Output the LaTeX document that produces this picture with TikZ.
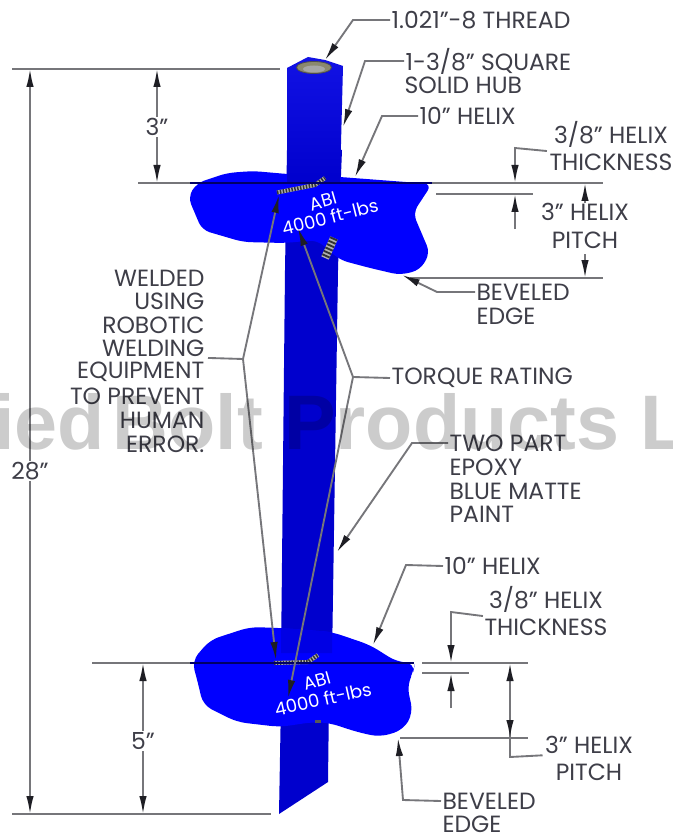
\documentclass[tikz,border=0pt]{standalone}
\usepackage{fontspec}
\setmainfont{Poppins}
\newfontfamily\wmfont{Liberation Sans}
\usetikzlibrary{arrows.meta}
\definecolor{linegray}{RGB}{118,118,122}
\definecolor{tipdark}{RGB}{30,30,36}
\definecolor{labelgray}{RGB}{62,62,72}
\definecolor{helixblue}{RGB}{0,0,255}
\definecolor{shafttop}{RGB}{18,18,228}
\definecolor{shaftlow}{RGB}{0,0,205}
\definecolor{shaftover}{RGB}{0,0,228}
\tikzset{
  lbl/.style={inner sep=1pt,text=labelgray,font=\fontsize{17.6pt}{20pt}\selectfont},
  ll/.style={lbl,anchor=west},
  lr/.style={lbl,anchor=east},
  lc/.style={lbl,anchor=center},
  ln/.style={line width=1.4pt,draw=linegray},
  ar/.style={ln,-{Latex[length=13.5pt,width=5.6pt,color=tipdark]}},
  onblue/.style={text=white,inner sep=0pt,font=\fontsize{13.5pt}{16pt}\selectfont},
  weld/.style={draw=black!80,line width=3pt,dash pattern=on 1.1pt off 1.1pt},
  weldunder/.style={draw=white!70!black,line width=3pt},
}
\begin{document}
\begin{tikzpicture}[x=0.75pt,y=-0.75pt]
\useasboundingbox (0,0) rectangle (672,834);
\clip (0,0) rectangle (672,834);
\fill[white] (0,0) rectangle (672,834);

% shaft below the lower helix
\fill[shaftlow] (281,700) -- (329,700) -- (328,782) -- (279,814) -- cycle;
% shaft between the helices
\fill[shaftlow] (287,150) -- (342,150) -- (340,200) -- (338,270) -- (332,660) -- (281,660) -- (285,270) -- cycle;

% lower helix
\fill[helixblue,rounded corners=7pt] (192,661) -- (210,640) -- (250,627) -- (280,628) -- (332,632) -- (370,645) -- (397,662) -- (415,663) -- (413,673) -- (407,685) -- (413,713) -- (403,730) -- (380,737) -- (357,732) -- (330,723) -- (313,722) -- (280,727) -- (237,722) -- (203,705) -- (198,683) -- cycle;
\fill[shaftover] (281,628) -- (332,632) -- (332,653) -- (281,653) -- cycle;

% upper helix
\fill[helixblue,rounded corners=6pt] (188,197) -- (197,183) -- (227,173) -- (253,171) -- (287,174) -- (340,177) -- (432,184) -- (413,213) -- (430,253) -- (420,270) -- (400,275) -- (370,268) -- (340,260) -- (317,240) -- (285,243) -- (243,242) -- (202,230) -- cycle;

% hub
\shade[top color=shafttop,bottom color=shaftlow] (287,68) -- (308,57) -- (325,60) -- (343,66) -- (340,183) -- (287,183) -- cycle;
\fill[black!55!yellow!45!gray] (314,67.5) ellipse (17.5 and 6);
\draw[black!70,line width=0.6pt] (314,67.5) ellipse (17.5 and 6);
\fill[gray!70] (314,69) ellipse (11 and 3.5);

% welds
\draw[weldunder] (277,192.5) -- (315,185) -- (325,178);
\draw[weld] (277,192.5) -- (315,185) -- (325,178);
\draw[draw=gray!60,line width=6pt] (334,238) -- (325,258);
\draw[draw=black!80,line width=6pt,dash pattern=on 1.4pt off 1.4pt] (334,238) -- (325,258);
\draw[weldunder] (274,663) -- (308,662) -- (318,655);
\draw[weld] (274,663) -- (308,662) -- (318,655);
\fill[gray!70!black] (315,720) rectangle (321,723);

% rating text on the helixes
\node[onblue,rotate=16] (abiA) at (323,201.5) {ABI};
\node[onblue,rotate=14] (ratingA) at (330,217) {4000 ft-lbs};
\node[onblue,rotate=16] (abiB) at (317,681) {ABI};
\node[onblue,rotate=12.5] (ratingB) at (323,699) {4000 ft-lbs};

% named ends of the leaders
\coordinate (tipThread) at (325,60);
\coordinate (tipHub) at (343,127);
\coordinate (tipHelixA) at (355,177);
\coordinate (tipBevelA) at (402,275);
\coordinate (tipWeldA) at (279,195);
\coordinate (tipWeldB) at (276,660);
\coordinate (tipTorqueA) at (298,228);
\coordinate (tipTorqueB) at (288,698);
\coordinate (tipEpoxy) at (337,552);
\coordinate (tipHelixB) at (373,645);
\coordinate (tipBevelB) at (398,738);

% labels
\node[ll] (thread) at (390,20) {1.021"-8 THREAD};
\node[ll] (hubA) at (404,61) {1-3/8" SQUARE};
\node[ll] (hubB) at (403,85) {SOLID HUB};
\node[ll] (helixA) at (418,116) {10" HELIX};
\node[lc] (thickA) at (611,134) {3/8" HELIX};
\node[lc] (thickAb) at (611,162) {THICKNESS};
\node[lc] (pitchA) at (585,212) {3" HELIX};
\node[lc] (pitchAb) at (585,240) {PITCH};
\node[ll] (bevelA) at (475,292) {BEVELED};
\node[ll] (bevelAb) at (475,316) {EDGE};
\node[ll] (torque) at (390,378) {TORQUE RATING};
\node[ll] (epoxyA) at (448,443) {TWO PART};
\node[ll] (epoxyB) at (448,467) {EPOXY};
\node[ll] (epoxyC) at (448,491) {BLUE MATTE};
\node[ll] (epoxyD) at (448,514) {PAINT};
\node[ll] (helixB) at (443,566) {10" HELIX};
\node[lc] (thickB) at (546,599) {3/8" HELIX};
\node[lc] (thickBb) at (546,627) {THICKNESS};
\node[lc] (pitchB) at (589,745) {3" HELIX};
\node[lc] (pitchBb) at (589,772) {PITCH};
\node[ll] (bevelB) at (441,801) {BEVELED};
\node[ll] (bevelBb) at (441,824) {EDGE};
\node[lr] (w1) at (206,278) {WELDED};
\node[lr] (w2) at (206,301) {USING};
\node[lr] (w3) at (206,325) {ROBOTIC};
\node[lr] (w4) at (206,348) {WELDING};
\node[lr] (w5) at (206,372) {EQUIPMENT};
\node[lr] (w6) at (206,396) {TO PREVENT};
\node[lr] (w7) at (206,420) {HUMAN};
\node[lr] (w8) at (206,444) {ERROR.};
\node[lc] (dimTwentyEight) at (30,471) {28"};
\node[lc] (dimThree) at (157,127) {3"};
\node[lc] (dimFive) at (143,741) {5"};

% extension lines
\coordinate (extTopL) at (12,69);
\coordinate (extTopR) at (280,69);
\coordinate (extBotL) at (12,814);
\coordinate (extBotR) at (271,814);
\coordinate (extHA) at (138,183);
\coordinate (extHB) at (603,183);
\coordinate (extHC) at (92,663);
\coordinate (extHD) at (414,663);
\draw[ln] (extTopL) -- (extTopR);
\draw[ln] (extBotL) -- (extBotR);
\draw[ln] (extHA) -- (190,183);
\draw[line width=1pt,draw=black!60!blue] (190,183) -- (432,183);
\draw[ln] (432,183) -- (extHB);
\draw[ln] (436,194) -- (533,194);
\draw[ln] (410,278) -- (603,278);
\draw[ln] (extHC) -- (190,663);
\draw[line width=1pt,draw=black!60!blue] (190,663) -- (extHD);
\draw[ln] (422,663) -- (528,663);
\draw[ln] (422,673) -- (469,673);
\draw[ln] (400,738) -- (528,738);

% dimension arrows
\draw[ar] (dimTwentyEight.north) -- (30,69);
\draw[ar] (dimTwentyEight.south) -- (30,814);
\draw[ar] (dimThree.north) -- (157,69);
\draw[ar] (dimThree.south) -- (157,183);
\draw[ar] (dimFive.north) -- (143,663);
\draw[ar] (dimFive.south) -- (143,814);
\draw[ar] (thickAb.north west) ++(-1,-1) coordinate (thA) -- (515,148) -- (515,183);
\draw[ar] (515,229) -- (515,194);
\draw[ar] (585,203) -- (585,183);
\draw[ar] (585,254) -- (585,278);
\draw[ar] (thickBb.north west) ++(0,-1) coordinate (thB) -- (451,612) -- (451,663);
\draw[ar] (451,708) -- (451,673);
\draw[ar] (pitchB.south west) ++(-1,0) coordinate (piB) -- (510,757) -- (510,663);
\draw[ar] (510,712) -- (510,738);

% leaders
\draw[ar] (thread.west) -- (353,20) -- (tipThread);
\draw[ar] (hubA.west) -- (365,61) -- (tipHub);
\draw[ar] (helixA.west) -- (382,116) -- (tipHelixA);
\draw[ar] (bevelA.west) -- (437,292) -- (tipBevelA);
\draw[ar] (helixB.west) -- (406,565) -- (tipHelixB);
\draw[ar] (bevelB.west) -- (403,800) -- (tipBevelB);
\draw[ar] (epoxyA.west) -- (412,443) -- (tipEpoxy);
\draw[ln] (w4.south east) ++(2,0) coordinate (weldStart) -- (243,359) coordinate (weldFork);
\draw[ar] (weldFork) -- (tipWeldA);
\draw[ar] (weldFork) -- (tipWeldB);
\draw[ln] (torque.west) -- (353,377) coordinate (torqueFork);
\draw[ar] (torqueFork) -- (tipTorqueA);
\draw[ar] (torqueFork) -- (tipTorqueB);

% watermark
\node[anchor=base west,inner sep=0pt,text=black,text opacity=0.2,font=\wmfont\bfseries\fontsize{58pt}{62pt}\selectfont] (mark) at (-7,449) {ied\hspace{-10.5pt} Bolt Products L};
\end{tikzpicture}
\end{document}
